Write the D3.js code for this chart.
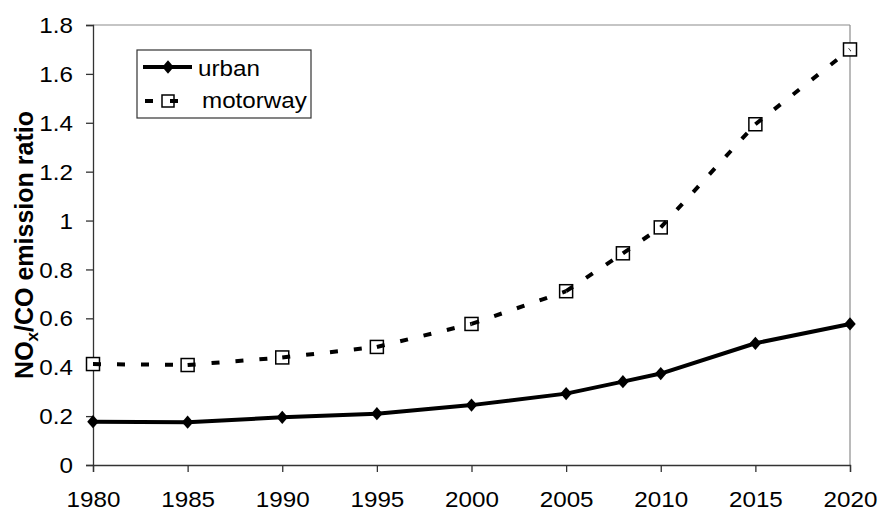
<!DOCTYPE html>
<html><head><meta charset="utf-8">
<script src="https://cdn.jsdelivr.net/npm/d3@7"></script>
<style>body{margin:0;background:#fff}svg{display:block}text{font-family:"Liberation Sans",Arial,sans-serif;fill:#000}</style>
</head><body><svg id="c" width="879" height="511"></svg>
<script>
const years = [1980, 1985, 1990, 1995, 2000, 2005, 2008, 2010, 2015, 2020];
const urban = [0.177, 0.175, 0.195, 0.21, 0.245, 0.292, 0.341, 0.374, 0.498, 0.577];
const motorway = [0.413, 0.409, 0.44, 0.483, 0.577, 0.711, 0.866, 0.972, 1.394, 1.70];
const xTicks = [1980, 1985, 1990, 1995, 2000, 2005, 2010, 2015, 2020];
const yTicks = [0, 0.2, 0.4, 0.6, 0.8, 1, 1.2, 1.4, 1.6, 1.8];
const seriesNames = ["urban", "motorway"];

const svg = d3.select("#c");
const L = 93, R = 850, T = 25, B = 465;
const x = d3.scaleLinear().domain([1980, 2020]).range([L, R]);
const y = d3.scaleLinear().domain([0, 1.8]).range([B, T]);
const SX = 1.1, FS = 22;

// frame top/right
svg.append("line").attr("x1", L).attr("x2", R).attr("y1", T).attr("y2", T).attr("stroke", "#8c8c8c").attr("stroke-width", 1.2);
svg.append("line").attr("x1", R).attr("x2", R).attr("y1", T).attr("y2", B).attr("stroke", "#8c8c8c").attr("stroke-width", 1.2);

// y axis
const yAxis = svg.append("g").attr("transform", `translate(${L},0)`)
  .call(d3.axisLeft(y).tickValues(yTicks).tickSize(7).tickFormat(d => d3.format("~g")(d)));
yAxis.select(".domain").attr("stroke", "#333").attr("stroke-width", 1.3);
yAxis.selectAll(".tick line").attr("stroke", "#333").attr("stroke-width", 1.3);
yAxis.selectAll(".tick text").attr("font-size", FS).attr("font-family", null)
  .attr("x", 0).attr("dy", null).attr("dominant-baseline", "central")
  .attr("transform", `translate(-20,0) scale(${SX},1)`);

// x axis
const xAxis = svg.append("g").attr("transform", `translate(0,${B})`)
  .call(d3.axisBottom(x).tickValues(xTicks).tickSize(7).tickFormat(d3.format("d")));
xAxis.select(".domain").attr("stroke", "#333").attr("stroke-width", 1.3);
xAxis.selectAll(".tick line").attr("stroke", "#333").attr("stroke-width", 1.3);
xAxis.selectAll(".tick text").attr("font-size", FS).attr("font-family", null)
  .attr("y", 0).attr("dy", null)
  .attr("transform", `translate(0,42) scale(${SX},1)`);

// y title
const yt = svg.append("text").attr("transform", `translate(33,${(T + B) / 2}) rotate(-90)`)
  .attr("text-anchor", "middle").attr("font-size", 25).attr("font-weight", "bold");
yt.append("tspan").text("NO");
yt.append("tspan").attr("font-size", 17).attr("dy", 5).text("x");
yt.append("tspan").attr("dy", -5).text("/CO emission ratio");

// series
function pairs(vals) { return d3.pairs(years.map((d, i) => [d, vals[i]])); }

// urban
svg.append("g").selectAll("line").data(pairs(urban)).join("line")
  .attr("x1", d => x(d[0][0])).attr("y1", d => y(d[0][1]))
  .attr("x2", d => x(d[1][0])).attr("y2", d => y(d[1][1]))
  .attr("stroke", "#000").attr("stroke-width", 4).attr("stroke-linecap", "round");
const diamond = d3.symbol().type(d3.symbolDiamond2).size(85);
svg.append("g").selectAll("path").data(years).join("path")
  .attr("d", diamond).attr("transform", (d, i) => `translate(${x(d)},${y(urban[i])}) scale(1,1.15)`)
  .attr("fill", "#000");

// motorway markers then dashed line on top
svg.append("g").selectAll("rect").data(years).join("rect")
  .attr("x", d => x(d) - 6.5).attr("y", (d, i) => y(motorway[i]) - 6.5)
  .attr("width", 13).attr("height", 13).attr("fill", "#fff").attr("stroke", "#000").attr("stroke-width", 1.5);
svg.append("g").selectAll("line").data(pairs(motorway)).join("line")
  .attr("x1", d => x(d[0][0])).attr("y1", d => y(d[0][1]))
  .attr("x2", d => x(d[1][0])).attr("y2", d => y(d[1][1]))
  .attr("stroke", "#000").attr("stroke-width", 4).attr("stroke-dasharray", "8,16");

// legend
const lg = svg.append("g");
lg.append("rect").attr("x", 137).attr("y", 50).attr("width", 174).attr("height", 68)
  .attr("fill", "#fff").attr("stroke", "#333").attr("stroke-width", 1.2);
lg.append("line").attr("x1", 143).attr("x2", 192).attr("y1", 67).attr("y2", 67).attr("stroke", "#000").attr("stroke-width", 4);
lg.append("path").attr("d", diamond).attr("transform", "translate(168,67) scale(1,1.15)").attr("fill", "#000");
lg.append("rect").attr("x", 162).attr("y", 95).attr("width", 12).attr("height", 12).attr("fill", "#fff").attr("stroke", "#000").attr("stroke-width", 1.5);
lg.append("line").attr("x1", 145).attr("x2", 178).attr("y1", 101).attr("y2", 101).attr("stroke", "#000").attr("stroke-width", 4).attr("stroke-dasharray", "8,17");
lg.append("text").attr("transform", `translate(198,76) scale(${SX},1)`).attr("font-size", FS).text(seriesNames[0]);
lg.append("text").attr("transform", `translate(202,108) scale(${SX},1)`).attr("font-size", FS).text(seriesNames[1]);
</script></body></html>
